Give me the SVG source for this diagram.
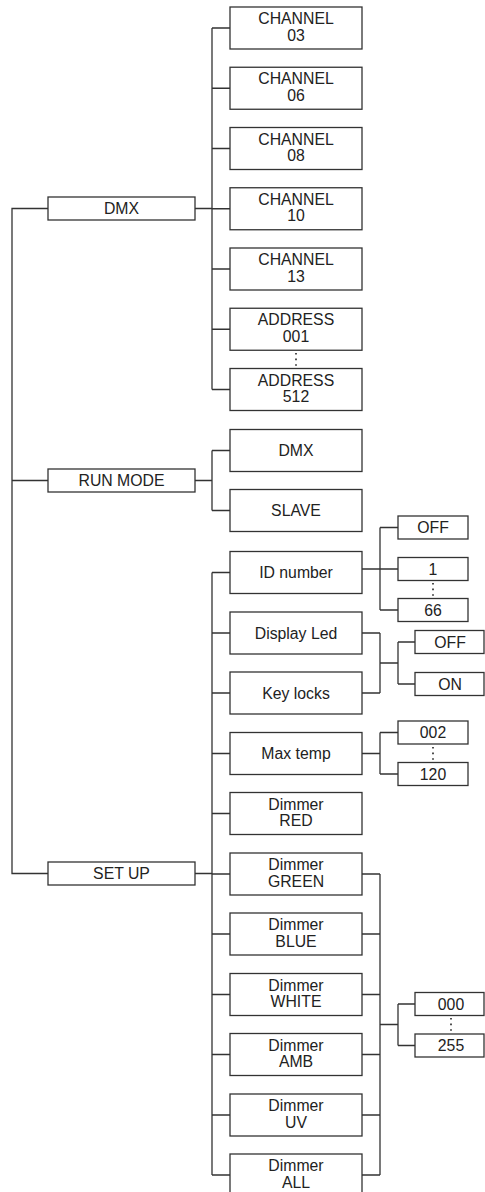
<svg xmlns="http://www.w3.org/2000/svg" width="485" height="1192" viewBox="0 0 485 1192">
<style>
rect{fill:#fff;stroke:#333;stroke-width:1.3}
text{font-family:"Liberation Sans",Arial,sans-serif;font-size:15.8px;fill:#222;text-anchor:middle}
.c path{fill:none;stroke:#333;stroke-width:1.3}
.c .dot{stroke:#222;stroke-width:1.6;stroke-dasharray:1.6 4}
</style>
<rect x="0" y="0" width="485" height="1192" style="fill:#fff;stroke:none"/>
<g class="c" id="connectors">
<path d="M48 208.5H12V873.5H48M12 480.5H48"/>
<path d="M195 208.5H212M212 28V389.5M212 28H230M212 88.25H230M212 148.5H230M212 208.75H230M212 269H230M212 329.25H230M212 389.5H230"/>
<path d="M195 480.5H212M212 450.5V510.5M212 450.5H230M212 510.5H230"/>
<path d="M195 873.5H212M212 572.5V1175M212 572.5H230M212 633H230M212 693H230M212 753.5H230M212 813.5H230M212 874H230M212 934H230M212 994.5H230M212 1054.5H230M212 1115H230M212 1175H230"/>
<path d="M362 569H398M380 527.5V610M380 527.5H398M380 610H398"/>
<path d="M362 633H380M362 693H380M380 633V693M380 663H398M398 642V684M398 642H415M398 684H415"/>
<path d="M362 753.5H380M380 732.5V774M380 732.5H398M380 774H398"/>
<path d="M362 874H380M362 934H380M362 994.5H380M362 1054.5H380M362 1115H380M362 1175H380M380 874V1175M380 1024.5H398M398 1004V1045.5M398 1004H415M398 1045.5H415"/>
<path class="dot" d="M296 353V368"/>
<path class="dot" d="M433 583V598"/>
<path class="dot" d="M433 747V762"/>
<path class="dot" d="M451 1018V1033"/>
</g>
<g id="n-dmx"><rect x="48" y="197" width="147" height="23"/><text x="121.5" y="214">DMX</text></g>
<g id="n-runmode"><rect x="48" y="469" width="147" height="23"/><text x="121.5" y="486">RUN MODE</text></g>
<g id="n-setup"><rect x="48" y="862" width="147" height="23"/><text x="121.5" y="879">SET UP</text></g>
<g id="n-ch03"><rect x="230" y="7" width="132" height="42"/><text x="296" y="24">CHANNEL</text><text x="296" y="40.5">03</text></g>
<g id="n-ch06"><rect x="230" y="67.25" width="132" height="42"/><text x="296" y="84.25">CHANNEL</text><text x="296" y="100.75">06</text></g>
<g id="n-ch08"><rect x="230" y="127.5" width="132" height="42"/><text x="296" y="144.5">CHANNEL</text><text x="296" y="161">08</text></g>
<g id="n-ch10"><rect x="230" y="187.75" width="132" height="42"/><text x="296" y="204.75">CHANNEL</text><text x="296" y="221.25">10</text></g>
<g id="n-ch13"><rect x="230" y="248" width="132" height="42"/><text x="296" y="265">CHANNEL</text><text x="296" y="281.5">13</text></g>
<g id="n-addr001"><rect x="230" y="308.25" width="132" height="42"/><text x="296" y="325.25">ADDRESS</text><text x="296" y="341.75">001</text></g>
<g id="n-addr512"><rect x="230" y="368.5" width="132" height="42"/><text x="296" y="385.5">ADDRESS</text><text x="296" y="402">512</text></g>
<g id="n-rm-dmx"><rect x="230" y="429.5" width="132" height="42"/><text x="296" y="456">DMX</text></g>
<g id="n-slave"><rect x="230" y="489.5" width="132" height="42"/><text x="296" y="516">SLAVE</text></g>
<g id="n-id"><rect x="230" y="551.5" width="132" height="42"/><text x="296" y="578">ID number</text></g>
<g id="n-display"><rect x="230" y="612" width="132" height="42"/><text x="296" y="638.5">Display Led</text></g>
<g id="n-keylocks"><rect x="230" y="672" width="132" height="42"/><text x="296" y="698.5">Key locks</text></g>
<g id="n-maxtemp"><rect x="230" y="732.5" width="132" height="42"/><text x="296" y="759">Max temp</text></g>
<g id="n-red"><rect x="230" y="792.5" width="132" height="42"/><text x="296" y="809.5">Dimmer</text><text x="296" y="826">RED</text></g>
<g id="n-green"><rect x="230" y="853" width="132" height="42"/><text x="296" y="870">Dimmer</text><text x="296" y="886.5">GREEN</text></g>
<g id="n-blue"><rect x="230" y="913" width="132" height="42"/><text x="296" y="930">Dimmer</text><text x="296" y="946.5">BLUE</text></g>
<g id="n-white"><rect x="230" y="973.5" width="132" height="42"/><text x="296" y="990.5">Dimmer</text><text x="296" y="1007">WHITE</text></g>
<g id="n-amb"><rect x="230" y="1033.5" width="132" height="42"/><text x="296" y="1050.5">Dimmer</text><text x="296" y="1067">AMB</text></g>
<g id="n-uv"><rect x="230" y="1094" width="132" height="42"/><text x="296" y="1111">Dimmer</text><text x="296" y="1127.5">UV</text></g>
<g id="n-all"><rect x="230" y="1154" width="132" height="42"/><text x="296" y="1171">Dimmer</text><text x="296" y="1187.5">ALL</text></g>
<g id="n-id-off"><rect x="398" y="516" width="70" height="23"/><text x="433" y="533">OFF</text></g>
<g id="n-id-1"><rect x="398" y="557.5" width="70" height="23"/><text x="433" y="574.5">1</text></g>
<g id="n-id-66"><rect x="398" y="598.5" width="70" height="23"/><text x="433" y="615.5">66</text></g>
<g id="n-off"><rect x="415" y="630.5" width="69" height="23"/><text x="450" y="647.5">OFF</text></g>
<g id="n-on"><rect x="415" y="672.5" width="69" height="23"/><text x="450" y="689.5">ON</text></g>
<g id="n-002"><rect x="398" y="721" width="70" height="23"/><text x="433" y="738">002</text></g>
<g id="n-120"><rect x="398" y="762.5" width="70" height="23"/><text x="433" y="779.5">120</text></g>
<g id="n-000"><rect x="415" y="992.5" width="69" height="23"/><text x="451" y="1009.5">000</text></g>
<g id="n-255"><rect x="415" y="1034" width="69" height="23"/><text x="451" y="1051">255</text></g>
</svg>
